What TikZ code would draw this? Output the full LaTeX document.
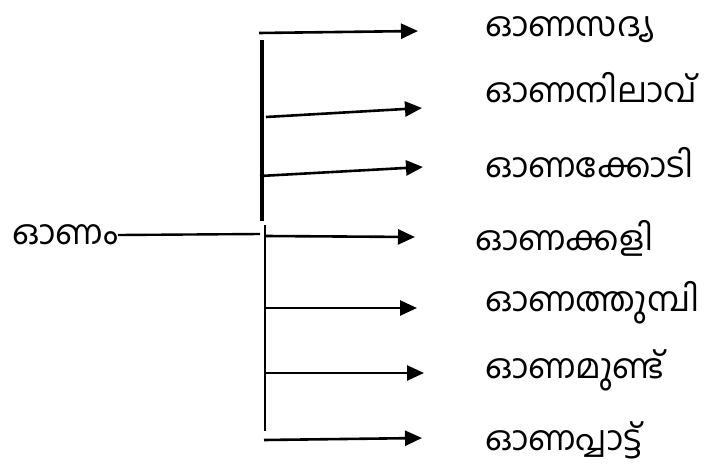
\documentclass[tikz,border=0pt]{standalone}
\usepackage{fontspec}
\newfontfamily\malfont[Script=Malayalam]{Hind Kochi}
\usetikzlibrary{arrows.meta}

\begin{document}
\begin{tikzpicture}[% styles used in image code
x=1pt, y=-1pt,
         > = {Triangle[length=17pt, width=15pt]},
lbl/.style = {inner sep=0pt, outer sep=0pt,
              font=\malfont\fontsize{34}{40}\selectfont},
arr/.style = {->, line width=2.6pt}
                        ]
	\useasboundingbox (0,0) rectangle (708,471);

	% root word and its line
	\node[lbl, anchor=east] (onam) at (118,235) {ഓണം};
	\coordinate (hub) at (260,234);
	\draw[line width=2.4pt] (onam.east) -- (hub);

	% the two upright strokes
	\coordinate (up1) at (262,40);
	\coordinate (up2) at (262,221);
	\coordinate (lo1) at (265,225);
	\coordinate (lo2) at (265,431);
	\draw[line width=4pt] (up1) -- (up2);
	\draw[line width=2.6pt] (lo1) -- (lo2);

	% words
	\node[lbl, anchor=west] (sadya)   at (485,30)  {ഓണസദ്യ};
	\node[lbl, anchor=west] (nilav)   at (485,88)  {ഓണനിലാവ്};
	\node[lbl, anchor=west] (kodi)    at (485,163) {ഓണക്കോടി};
	\node[lbl, anchor=west] (kali)    at (475,238) {ഓണക്കളി};
	\node[lbl, anchor=west] (thumbi)  at (485,303) {ഓണത്തുമ്പി};
	\node[lbl, anchor=west] (unnu)    at (485,370) {ഓണമുണ്ട്};
	\node[lbl, anchor=west] (pattu)   at (485,440) {ഓണപ്പാട്ട്};

	% arrows
	\coordinate (s1) at (259,33);  \coordinate (t1) at (418,31);
	\coordinate (s2) at (266,117); \coordinate (t2) at (422,108);
	\coordinate (s3) at (260,176); \coordinate (t3) at (423,167);
	\coordinate (s4) at (266,236); \coordinate (t4) at (415,237);
	\coordinate (s5) at (266,308); \coordinate (t5) at (417,308);
	\coordinate (s6) at (266,373); \coordinate (t6) at (424,373);
	\coordinate (s7) at (264,440); \coordinate (t7) at (422,438);

	\foreach \i in {1,...,7}
		\draw[arr] (s\i) -- (t\i);
\end{tikzpicture}
\end{document}
